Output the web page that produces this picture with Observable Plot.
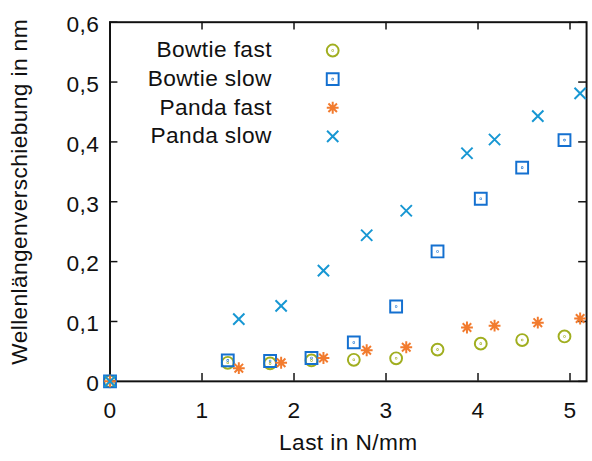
<!DOCTYPE html>
<html><head><meta charset="utf-8">
<script src="https://cdn.jsdelivr.net/npm/d3@7"></script>
<script src="https://cdn.jsdelivr.net/npm/@observablehq/plot@0.6"></script>
<style>
html,body{margin:0;padding:0;background:#fff;overflow:hidden;width:592px;height:461px}
</style></head><body><div id="chart"></div>
<script>
const seriesNames = ["Bowtie fast", "Bowtie slow", "Panda fast", "Panda slow"];
const seriesColors = ["#a0ae1f", "#1470d0", "#f27b2e", "#1797d3"];
const bowtieLoad = [0, 1.28, 1.74, 2.19, 2.65, 3.11, 3.56, 4.03, 4.48, 4.94];
const pandaLoad  = [0, 1.40, 1.86, 2.32, 2.79, 3.22, 3.88, 4.18, 4.65, 5.11];
const bowtieFast = [0, 0.031, 0.030, 0.035, 0.036, 0.0385, 0.053, 0.063, 0.069, 0.075];
const bowtieSlow = [0, 0.035, 0.034, 0.039, 0.065, 0.125, 0.217, 0.305, 0.357, 0.403];
const pandaFast  = [0, 0.022, 0.031, 0.039, 0.052, 0.057, 0.090, 0.093, 0.098, 0.105];
const pandaSlow  = [0, 0.104, 0.126, 0.185, 0.244, 0.285, 0.381, 0.404, 0.443, 0.481];
const xTicks = [0, 1, 2, 3, 4, 5];
const yTicks = [0, 0.1, 0.2, 0.3, 0.4, 0.5, 0.6];
const xLabel = "Last in N/mm";
const yLabel = "Wellenlängenverschiebung in nm";

const rad = s => Math.sqrt(s / Math.PI);
const symCircleDot = {draw(c, s){const r = rad(s); c.moveTo(r,0); c.arc(0,0,r,0,2*Math.PI); c.moveTo(0.3,0); c.arc(0,0,0.3,0,2*Math.PI);}};
const symSquareDot = {draw(c, s){const r = rad(s); c.rect(-r,-r,2*r,2*r); c.moveTo(0.3,0); c.arc(0,0,0.3,0,2*Math.PI);}};
const symStar = {draw(c, s){const r = rad(s); const d = r*0.72;
  c.moveTo(-r,0); c.lineTo(r,0); c.moveTo(0,-r); c.lineTo(0,r);
  c.moveTo(-d,-d); c.lineTo(d,d); c.moveTo(-d,d); c.lineTo(d,-d);}};
const symTimes = {draw(c, s){const r = rad(s)*0.95;
  c.moveTo(-r,-r); c.lineTo(r,r); c.moveTo(-r,r); c.lineTo(r,-r);}};
const symbols = [symCircleDot, symSquareDot, symStar, symTimes];

const series = [
  {name: seriesNames[0], xs: bowtieLoad, ys: bowtieFast},
  {name: seriesNames[1], xs: bowtieLoad, ys: bowtieSlow},
  {name: seriesNames[2], xs: pandaLoad, ys: pandaFast},
  {name: seriesNames[3], xs: pandaLoad, ys: pandaSlow}
];

const W = 600, H = 461, mL = 111, mR = 6, mT = 22, mB = 75;
const innerW = W - mL - mR, innerH = H - mT - mB;
const fmtY = d => d === 0 ? "0" : d.toFixed(1).replace(".", ",");
const ink = "#111";

const dataMarks = series.map((s, i) => Plot.dot(s.xs.map((x, j) => ({x, y: s.ys[j]})), {
  x: "x", y: "y", r: 6, symbol: symbols[i], stroke: seriesColors[i], fill: "none", strokeWidth: 2
}));

const legendMarks = seriesNames.flatMap((name, i) => [
  Plot.text([name], {frameAnchor: "top-left", textAnchor: "end", lineAnchor: "middle", dx: 164, dy: 28.3 + 29*i, fill: ink}),
  Plot.dot([name], {frameAnchor: "top-left", dx: 225.7, dy: 28.7 + 29*i, r: 6, symbol: symbols[i], stroke: seriesColors[i], fill: "none", strokeWidth: 2})
]);

const chart = Plot.plot({
  width: W, height: H,
  marginLeft: mL, marginRight: mR, marginTop: mT, marginBottom: mB,
  style: {fontFamily: "Liberation Sans, Arial, sans-serif", fontSize: "23px", letterSpacing: "0.4px", background: "#fff", color: ink, overflow: "visible"},
  x: {domain: [0, 5.18], axis: null},
  y: {domain: [0, 0.6], axis: null},
  marks: [
    Plot.tickX(xTicks, {x: d => d, insetTop: innerH - 8, stroke: ink, strokeWidth: 1.5}),
    Plot.tickX(xTicks, {x: d => d, insetBottom: innerH - 8, stroke: ink, strokeWidth: 1.5}),
    Plot.tickY(yTicks, {y: d => d, insetRight: innerW - 8, stroke: ink, strokeWidth: 1.5}),
    Plot.tickY(yTicks, {y: d => d, insetLeft: innerW - 8, stroke: ink, strokeWidth: 1.5}),
    Plot.frame({stroke: ink, strokeWidth: 2}),
    Plot.text(xTicks, {x: d => d, frameAnchor: "bottom", lineAnchor: "top", dy: 21, text: d => String(d), fill: ink}),
    Plot.text(yTicks, {y: d => d, frameAnchor: "left", textAnchor: "end", lineAnchor: "middle", dx: -11, dy: 2.5, text: fmtY, fill: ink}),
    Plot.text([xLabel], {frameAnchor: "bottom", textAnchor: "middle", lineAnchor: "top", dy: 53, fill: ink}),
    Plot.text([yLabel], {frameAnchor: "left", textAnchor: "middle", lineAnchor: "middle", rotate: -90, dx: -91, dy: -10, fill: ink}),
    ...dataMarks,
    ...legendMarks
  ]
});
document.getElementById("chart").appendChild(chart);
</script></body></html>
